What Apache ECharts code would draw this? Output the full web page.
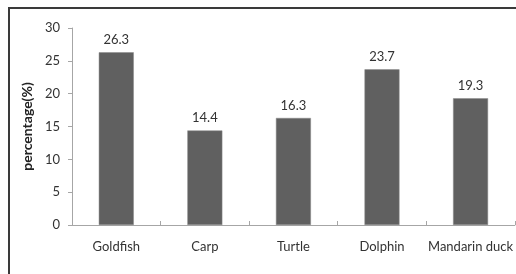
<!DOCTYPE html>
<html lang="en">
<head>
    <meta charset="UTF-8">
    <title>percentage chart</title>
    <script src="https://cdn.jsdelivr.net/npm/echarts@6/dist/echarts.min.js"></script>
    <style>
        html, body { margin: 0; padding: 0; background: #fff; }
        #chart_main { width: 516px; height: 274px; }
    </style>
</head>
<body>
<div id="chart_main"></div>
<script>
  // 数据
  var categories = ['Goldfish', 'Carp', 'Turtle', 'Dolphin', 'Mandarin duck'];
  var values = [26.3, 14.4, 16.3, 23.7, 19.3];
  var yTicks = [0, 5, 10, 15, 20, 25, 30];

  var fontName = 'Lato, "Open Sans", sans-serif';
  var myChart = echarts.init(document.getElementById('chart_main'));
  var option = {
    animation: false,
    // 外框
    graphic: [{
      type: 'rect',
      shape: {x: 9, y: 8, width: 700, height: 400},
      style: {fill: 'none', stroke: '#3a3a3a', lineWidth: 2},
      silent: true
    }],
    grid: {left: 72, right: 0, top: 28, bottom: 49, containLabel: false},
    xAxis: {
      type: 'category',
      data: categories,
      axisLine: {lineStyle: {color: '#a6a6a6', width: 1}},
      axisTick: {show: true, inside: true, length: 4, alignWithLabel: false, lineStyle: {color: '#a6a6a6'}},
      axisLabel: {color: '#333', fontSize: 13, fontFamily: fontName, margin: 15, interval: 0}
    },
    yAxis: {
      type: 'value',
      min: yTicks[0],
      max: yTicks[yTicks.length - 1],
      interval: 5,
      name: 'percentage(%)',
      nameLocation: 'middle',
      nameGap: 31,
      nameTextStyle: {color: '#222', fontSize: 14, fontWeight: 'bold', fontFamily: fontName},
      axisLine: {show: true, lineStyle: {color: '#a6a6a6', width: 1}},
      axisTick: {show: true, length: 4, lineStyle: {color: '#a6a6a6'}},
      splitLine: {show: false},
      axisLabel: {color: '#333', fontSize: 13, fontFamily: fontName, margin: 12}
    },
    series: [{
      type: 'bar',
      data: values,
      barWidth: '39.5%',
      itemStyle: {color: '#606060', borderColor: '#8a8a8a', borderWidth: 0.5},
      label: {
        show: true,
        position: 'top',
        distance: 6,
        color: '#333',
        fontSize: 13,
        fontFamily: fontName,
        formatter: function(p) { return p.value.toFixed(1); }
      }
    }]
  };
  myChart.setOption(option);
</script>
</body>
</html>
